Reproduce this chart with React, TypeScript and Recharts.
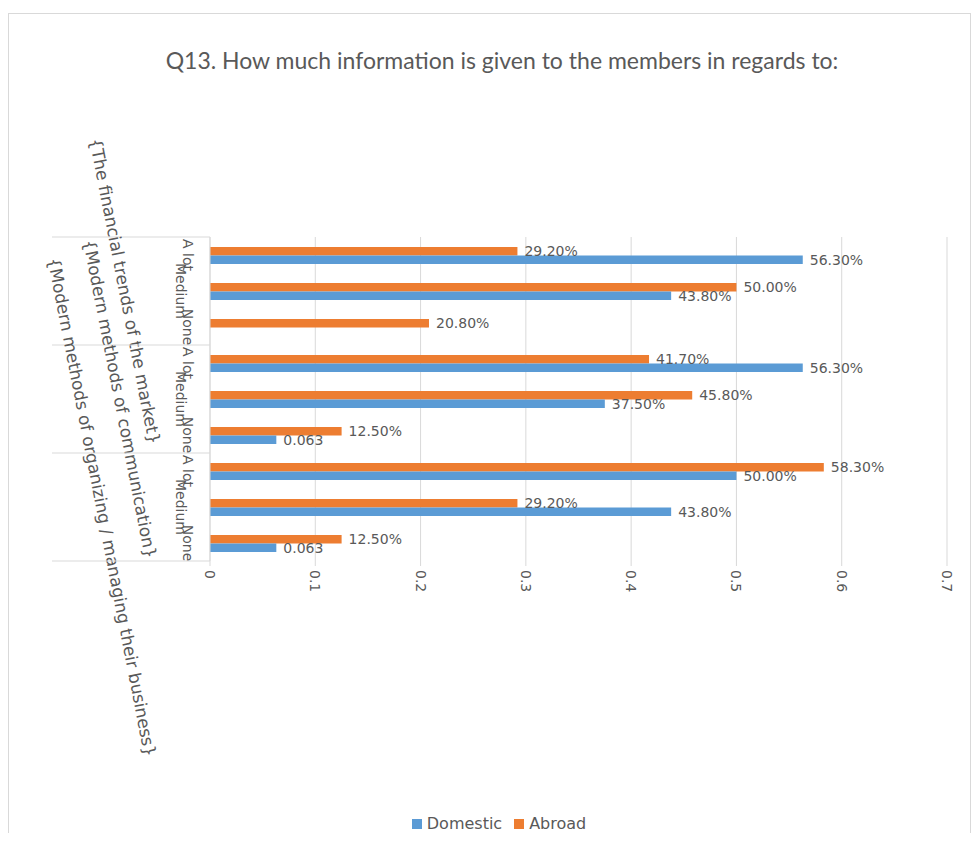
import { Bar, BarChart, CartesianGrid, LabelList, XAxis, YAxis } from 'recharts'

const groups = [
  '{The financial trends of the market}',
  '{Modern methods of communication}',
  '{Modern methods of organizing / managing their business}',
]
const levels = ['A lot', 'Medium', 'None']

// one value per row, groups in order, levels A lot / Medium / None
const domestic = [0.563, 0.438, null, 0.563, 0.375, 0.063, 0.5, 0.438, 0.063]
const abroad = [0.292, 0.5, 0.208, 0.417, 0.458, 0.125, 0.583, 0.292, 0.125]
const domesticLabels = ['56.30%', '43.80%', '', '56.30%', '37.50%', '0.063', '50.00%', '43.80%', '0.063']
const abroadLabels = ['29.20%', '50.00%', '20.80%', '41.70%', '45.80%', '12.50%', '58.30%', '29.20%', '12.50%']
const xTicks = [0, 0.1, 0.2, 0.3, 0.4, 0.5, 0.6, 0.7]

const series = [
  { name: 'Domestic', color: '#5b9bd5' },
  { name: 'Abroad', color: '#ed7d31' },
]

const rows = groups.flatMap((group, g) =>
  levels.map((level, l) => {
    const i = g * levels.length + l
    return {
      key: `${g}-${level}`,
      group,
      level,
      domestic: domestic[i],
      abroad: abroad[i],
      domesticLabel: domesticLabels[i],
      abroadLabel: abroadLabels[i],
    }
  })
)

const W = 963
const H = 827
const PLOT_LEFT = 202
const ROW = 36
const TEXT = '#595959'
const FONT = 'DejaVu Sans'
const GROUP_X = [117, 112, 94]

function YTick(props: any) {
  const { y, payload } = props
  const i = rows.findIndex((r) => r.key === payload.value)
  if (i < 0) return null
  const row = rows[i]
  const l = i % levels.length
  const g = Math.floor(i / levels.length)
  const cx = row.level === 'Medium' ? 173 : 180
  return (
    <g>
      <text
        transform={`translate(${cx},${y}) rotate(90)`}
        textAnchor="middle"
        dominantBaseline="central"
        fontSize={14}
        fontFamily={FONT}
        fill={TEXT}
      >
        {row.level}
      </text>
      {l === 0 && (
        <>
          <line x1={44} x2={PLOT_LEFT} y1={y - ROW / 2} y2={y - ROW / 2} stroke="#d9d9d9" />
          <text
            transform={`translate(${GROUP_X[g]},${y + ROW}) rotate(79)`}
            textAnchor="middle"
            dominantBaseline="central"
            fontSize={17}
            fontFamily={FONT}
            fill={TEXT}
          >
            {row.group}
          </text>
        </>
      )}
      {i === rows.length - 1 && <line x1={44} x2={PLOT_LEFT} y1={y + ROW / 2} y2={y + ROW / 2} stroke="#d9d9d9" />}
    </g>
  )
}

function XTick(props: any) {
  const { x, y, payload } = props
  return (
    <text
      transform={`translate(${x},${y + 2}) rotate(90)`}
      textAnchor="start"
      dominantBaseline="central"
      fontSize={14}
      fontFamily={FONT}
      fill={TEXT}
    >
      {payload.value}
    </text>
  )
}

export default function App() {
  return (
    <div style={{ position: 'relative', width: W, height: H, fontFamily: FONT }}>
      <div
        style={{
          position: 'absolute',
          left: 0,
          top: 5,
          width: W - 2,
          height: H - 8,
          borderTop: '1px solid #d9d9d9',
          borderLeft: '1px solid #d9d9d9',
          borderRight: '1px solid #d9d9d9',
        }}
      />
      <div
        style={{
          position: 'absolute',
          left: 44,
          width: 900,
          top: 38,
          textAlign: 'center',
          fontFamily: 'Lato',
          fontSize: 23,
          color: TEXT,
        }}
      >
        Q13. How much information is given to the members in regards to:
      </div>
      <div style={{ position: 'absolute', top: 0, left: 0 }}>
        <BarChart
          width={W}
          height={H}
          data={rows}
          layout="vertical"
          margin={{ top: 229, right: 24, left: 2, bottom: 244 }}
          barSize={8.5}
          barGap={0}
        >
          <CartesianGrid horizontal={false} stroke="#d9d9d9" />
          <XAxis
            type="number"
            domain={[0, 0.7]}
            ticks={xTicks}
            interval={0}
            axisLine={false}
            tickLine={{ stroke: '#d9d9d9' }}
            tickSize={5}
            height={30}
            tick={<XTick />}
          />
          <YAxis
            type="category"
            dataKey="key"
            width={200}
            interval={0}
            axisLine={{ stroke: '#d9d9d9' }}
            tickLine={false}
            tick={<YTick />}
          />
          <Bar dataKey="abroad" name="Abroad" fill={series[1].color} isAnimationActive={false}>
            <LabelList dataKey="abroadLabel" position="right" offset={7} fill={TEXT} fontSize={14} fontFamily={FONT} />
          </Bar>
          <Bar dataKey="domestic" name="Domestic" fill={series[0].color} isAnimationActive={false}>
            <LabelList dataKey="domesticLabel" position="right" offset={7} fill={TEXT} fontSize={14} fontFamily={FONT} />
          </Bar>
        </BarChart>
      </div>
      <div
        style={{
          position: 'absolute',
          top: 806,
          left: 0,
          width: 982,
          display: 'flex',
          justifyContent: 'center',
          gap: 12,
          fontSize: 16,
          color: TEXT,
        }}
      >
        {series.map((s) => (
          <span key={s.name} style={{ display: 'flex', alignItems: 'center', gap: 5 }}>
            <span style={{ width: 10, height: 10, background: s.color, display: 'inline-block' }} />
            {s.name}
          </span>
        ))}
      </div>
    </div>
  )
}
